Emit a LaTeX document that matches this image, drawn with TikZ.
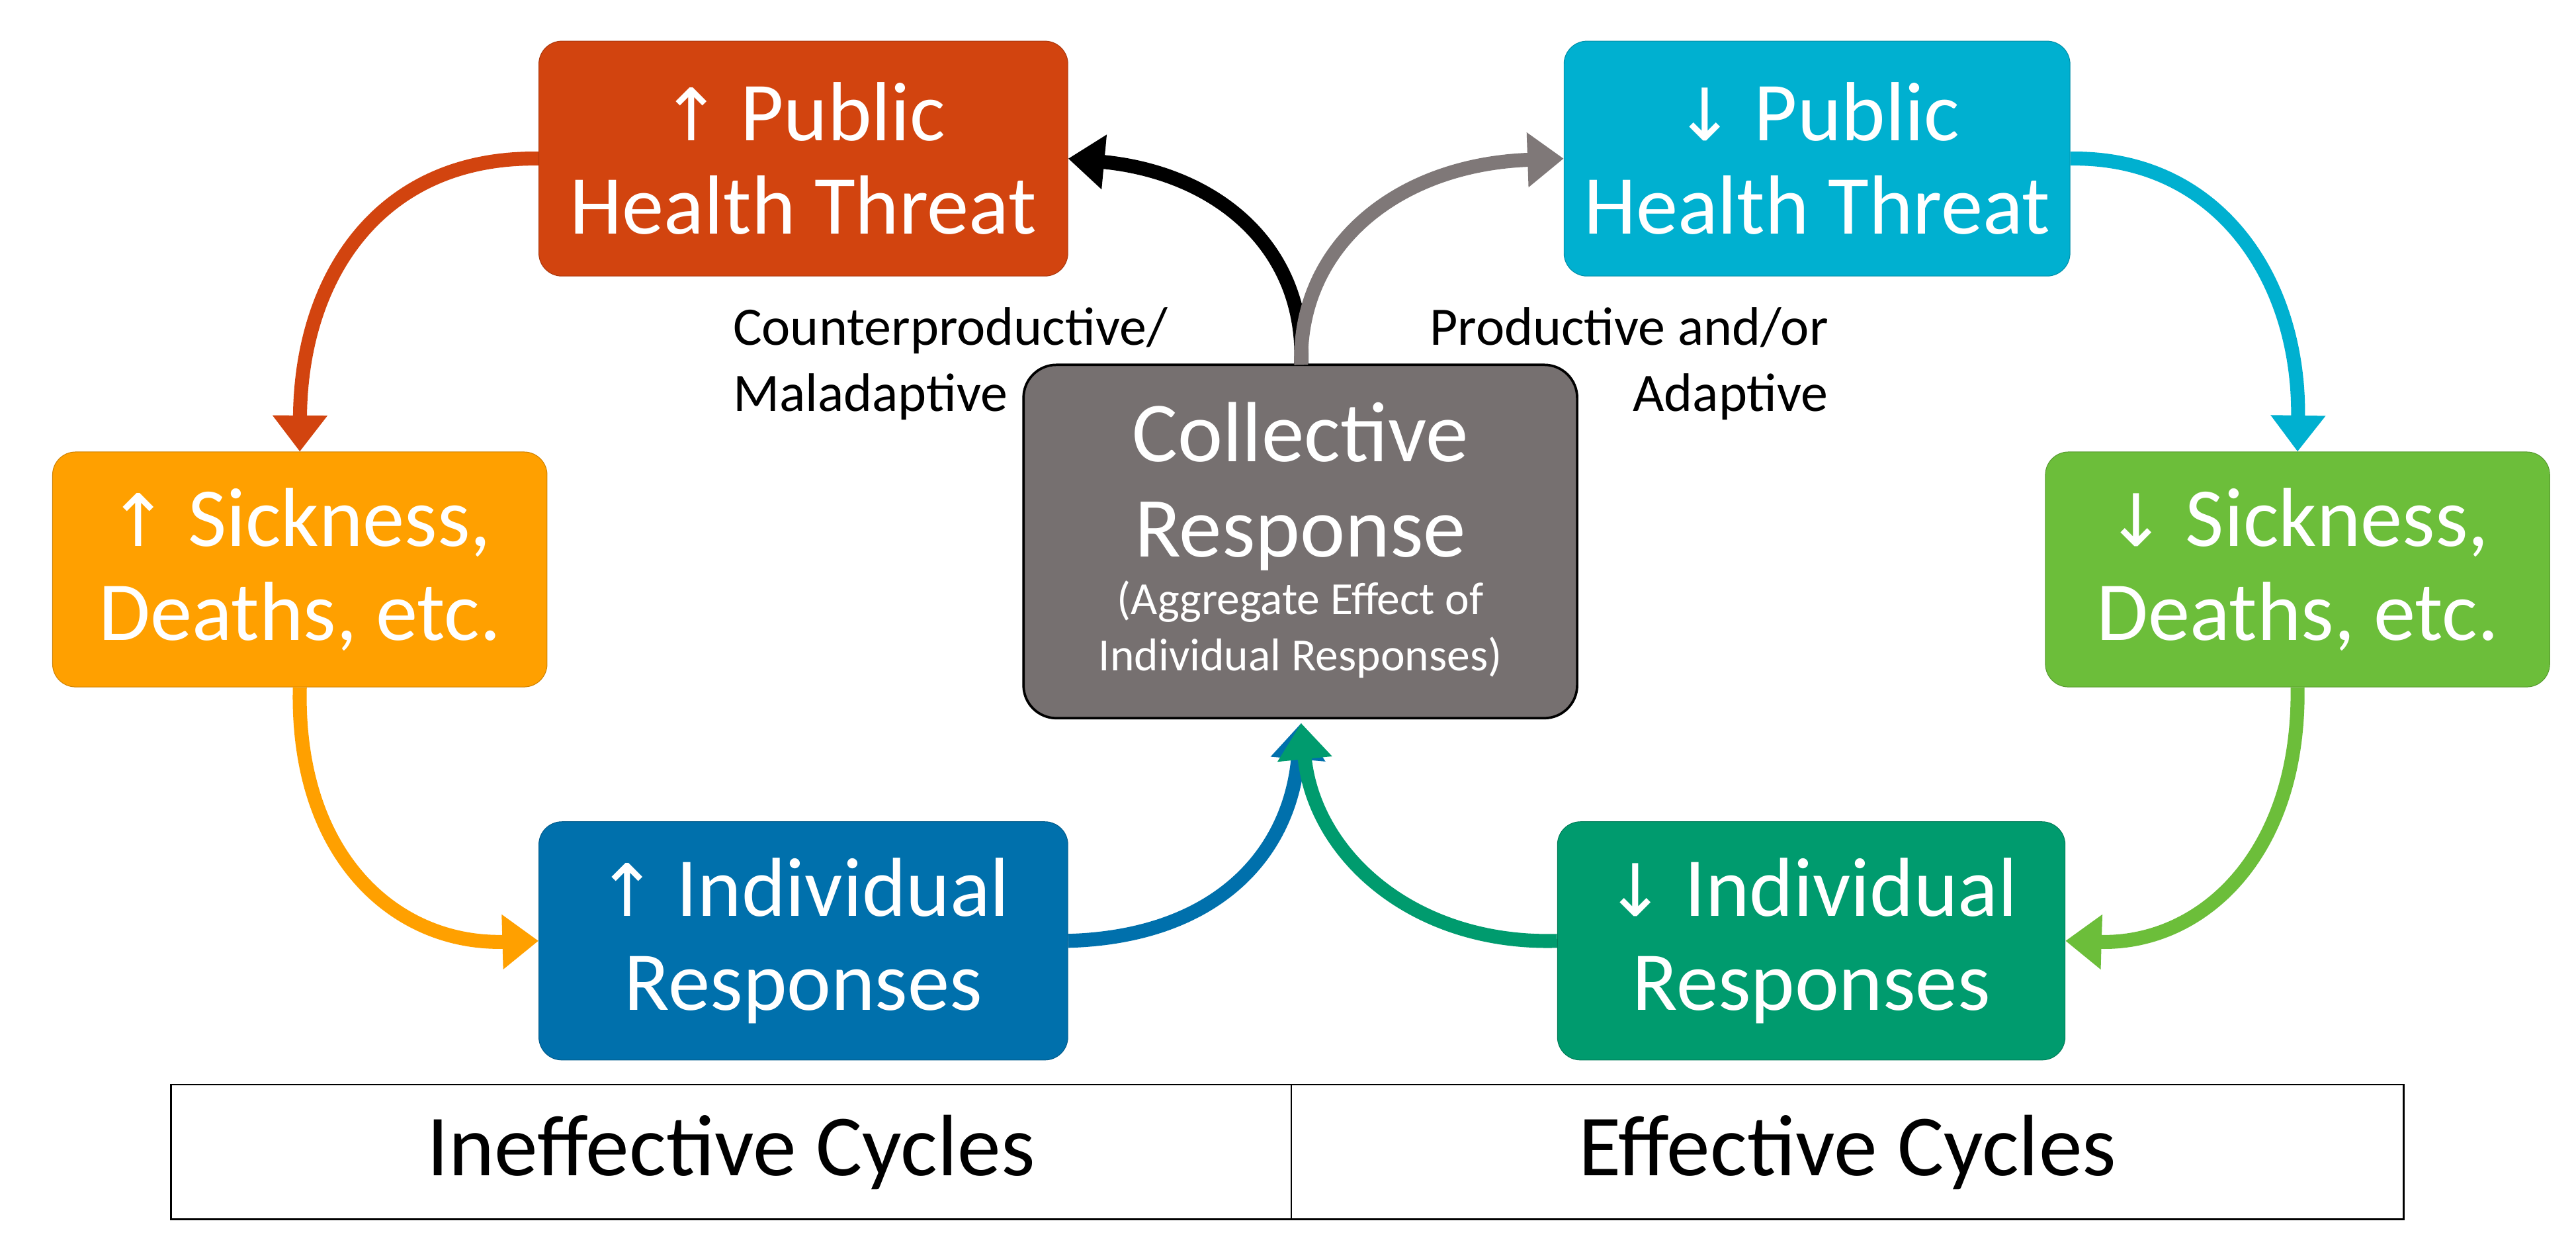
\documentclass[tikz,border=0pt]{standalone}
\usepackage{fontspec}
\setmainfont{Carlito}
\newfontfamily\arf{DejaVu Sans}
\usetikzlibrary{arrows.meta}
\definecolor{cR}{HTML}{D2440F}
\definecolor{cO}{HTML}{FFA000}
\definecolor{cB}{HTML}{0070AC}
\definecolor{cC}{HTML}{00B0D0}
\definecolor{cG}{HTML}{6CBE3A}
\definecolor{cT}{HTML}{009B6E}
\definecolor{cK}{HTML}{767070}
\definecolor{cA}{HTML}{7F7878}
\newcommand{\upa}{{\arf\fontsize{44}{50}\selectfont ↑}}
\newcommand{\dna}{{\arf\fontsize{44}{50}\selectfont ↓}}
\begin{document}
\begin{tikzpicture}[x=1pt,y=-1pt,
 box/.style={draw=#1!80!black,fill=#1,rounded corners=14pt,text=white,align=center,font=\fontsize{51}{57}\selectfont,inner sep=0pt},
 arr/.style={line width=8.5pt,draw=#1,-{Triangle[length=22pt,width=32pt]}},
 lab/.style={font=\fontsize{33}{40}\selectfont,inner sep=0pt}]
\useasboundingbox (0,0) rectangle (1568,764);
\node[box=cR,minimum width=322,minimum height=143] (pl) at (489,96.5) {\upa\ Public\\Health Threat};
\node[box=cC,minimum width=308,minimum height=143] (pr) at (1106,96.5) {\dna\ Public\\Health Threat};
\node[box=cO,minimum width=301,minimum height=143] (sl) at (182.5,346.5) {\upa\ Sickness,\\Deaths, etc.};
\node[box=cG,minimum width=307,minimum height=143] (sr) at (1398.5,346.5) {\dna\ Sickness,\\Deaths, etc.};
\node[box=cB,minimum width=322,minimum height=145] (il) at (489,572.5) {\upa\ Individual\\Responses};
\node[box=cT,minimum width=309,minimum height=145] (ir) at (1102.5,572.5) {\dna\ Individual\\Responses};
\node[draw=black,line width=1.5pt,fill=cK,rounded corners=20pt,minimum width=337,minimum height=215,inner sep=0pt] (c) at (791.5,329.5) {};
\node[text=white,align=center,font=\fontsize{52}{58}\selectfont,inner sep=0pt] (ct1) at (791.5,296) {Collective\\Response};
\node[text=white,align=center,font=\fontsize{28}{34}\selectfont,inner sep=0pt] (ct2) at (791.5,383) {(Aggregate Effect of\\Individual Responses)};
\node[draw,line width=1pt,minimum width=682,minimum height=82,inner sep=0pt,font=\fontsize{53}{60}\selectfont] (t1) at (445,701) {Ineffective Cycles};
\node[draw,line width=1pt,minimum width=677,minimum height=82,inner sep=0pt,font=\fontsize{53}{60}\selectfont] (t2) at (1124.5,701) {Effective Cycles};
\node[lab,align=left,anchor=north west] (l1) at (446,187) {Counterproductive/\\Maladaptive};
\node[lab,align=right,anchor=north east] (l2) at (1113,187) {Productive and/or\\Adaptive};
\coordinate (ct) at (792,222);
\coordinate (cb) at (792,440);
\draw[arr=cR] (pl.west) .. controls (230,95) and (183,170) .. (sl.north);
\draw[arr=cO] (sl.south) .. controls (180,520) and (240,575) .. (il.west);
\draw[arr=cB] (il.east) .. controls (740,570) and (785,520) .. (cb);
\draw[arr=black] (ct) .. controls (795,150) and (740,105) .. (pl.east);
\draw[arr=cA] (ct) .. controls (790,150) and (850,100) .. (pr.west);
\draw[arr=cC] (pr.east) .. controls (1350,95) and (1400,170) .. (sr.north);
\draw[arr=cG] (sr.south) .. controls (1400,520) and (1340,575) .. (ir.east);
\draw[arr=cT] (ir.west) .. controls (860,575) and (800,520) .. (cb);
\end{tikzpicture}
\end{document}
